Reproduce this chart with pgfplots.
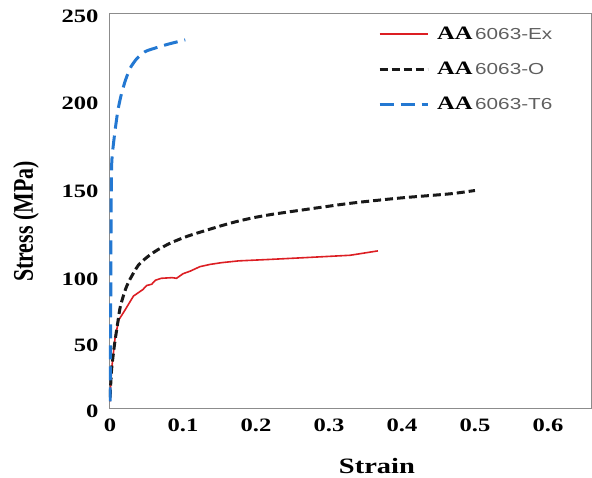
\documentclass[border=0pt]{standalone}
\usepackage{pgfplots}
\pgfplotsset{compat=1.18}
\usepackage{graphicx}
\usepackage{fontspec}
\setmainfont{Liberation Serif}
\newfontfamily\ser{Liberation Serif}[FakeStretch=1.3]
\newfontfamily\serplain{Liberation Serif}
\newfontfamily\san{Liberation Sans}[FakeStretch=1.3]
\definecolor{exred}{RGB}{220,30,35}
\definecolor{t6blue}{RGB}{35,120,210}
\definecolor{oblack}{RGB}{25,25,25}
\definecolor{axgray}{RGB}{140,140,140}
\definecolor{txtgray}{RGB}{95,95,95}

\pgfplotstableread{
x y
0.000 5
0.001 21
0.003 34
0.007 54
0.012 67
0.020 74
0.032 85
0.045 90
0.050 93
0.057 94
0.062 97
0.070 98.5
0.085 99
0.091 98.5
0.100 101.5
0.110 103
0.123 105.5
0.137 106.8
0.153 107.8
0.176 108.8
0.222 109.7
0.260 110.5
0.329 112
0.367 114.5
}\tabEx

\pgfplotstableread{
x y
0.000 8
0.002 29
0.006 48
0.010 63
0.014 77
0.021 90
0.027 97.5
0.039 106.5
0.0525 111.5
0.066 115.3
0.0845 119.3
0.107 123
0.130 126
0.153 128.9
0.176 131.5
0.199 133.6
0.222 135.3
0.260 137.6
0.329 141.6
0.397 144.6
0.466 147
0.500 148.9
}\tabO

\pgfplotstableread{
x y
0.000 5
0.0008 70
0.0014 138
0.0023 165
0.0059 180
0.0105 194
0.015 203
0.0205 211
0.0274 218.5
0.0366 224
0.048 228
0.0616 230
0.080 232.3
0.103 234.7
}\tabT

\begin{document}
\begin{tikzpicture}
\begin{axis}[
  scale only axis, width=482bp, height=395bp,
  xmin=-0.0015, xmax=0.659,
  ymin=0, ymax=250,
  y coord trafo/.code={\pgfmathparse{#1+max(#1-100,0)/3}},
  xtick={0,0.1,0.2,0.3,0.4,0.5,0.6},
  xticklabels={0,0.1,0.2,0.3,0.4,0.5,0.6},
  ytick={0,50,100,150,200,250},
  yticklabels={0,50,100,150,200,250},
  major tick length=0pt,
  axis line style={axgray, line width=1pt},
  tick label style={font=\ser\bfseries\fontsize{19}{19}\selectfont, black},
  yticklabel style={xshift=-7bp, yshift=-3bp},
  xticklabel style={yshift=-7bp},
  xlabel={Strain}, ylabel={\scalebox{1}[1.3]{Stress (MPa)}},
  xlabel style={font=\ser\bfseries\fontsize{22}{22}\selectfont, at={(axis description cs:0.556,-0.147)}, anchor=center},
  ylabel style={font=\serplain\bfseries\fontsize{22}{22}\selectfont, at={(axis description cs:-0.172,0.472)}, anchor=center},
  legend style={draw=none, fill=none, at={(axis description cs:0.558,0.965)}, anchor=north west,
    row sep=21bp, column sep=8bp, inner sep=0pt, nodes={inner sep=0pt}},
  legend cell align=left,
  legend image code/.code={\draw[#1] (0bp,0bp) -- (48bp,0bp);},
]
\coordinate (o) at (rel axis cs:0,0);
\addplot[exred, line width=1.6bp] table[x=x,y=y] {\tabEx};
\addlegendentry{{\ser\bfseries\fontsize{19}{19}\selectfont AA} {\san\color{txtgray}\fontsize{16}{16}\selectfont 6063-Ex}}
\addplot[oblack, line width=3bp, dash pattern=on 8bp off 4bp, smooth, tension=0.4] table[x=x,y=y] {\tabO};
\addlegendentry{{\ser\bfseries\fontsize{19}{19}\selectfont AA} {\san\color{txtgray}\fontsize{16}{16}\selectfont 6063-O}}
\addplot[t6blue, line width=3bp, dash pattern=on 14bp off 7bp, smooth, tension=0.4] table[x=x,y=y] {\tabT};
\addlegendentry{{\ser\bfseries\fontsize{19}{19}\selectfont AA} {\san\color{txtgray}\fontsize{16}{16}\selectfont 6063-T6}}
\end{axis}
\pgfresetboundingbox
\path[use as bounding box] (o) ++(-109bp,-70bp) rectangle ++(592bp,478bp);
\end{tikzpicture}
\end{document}
